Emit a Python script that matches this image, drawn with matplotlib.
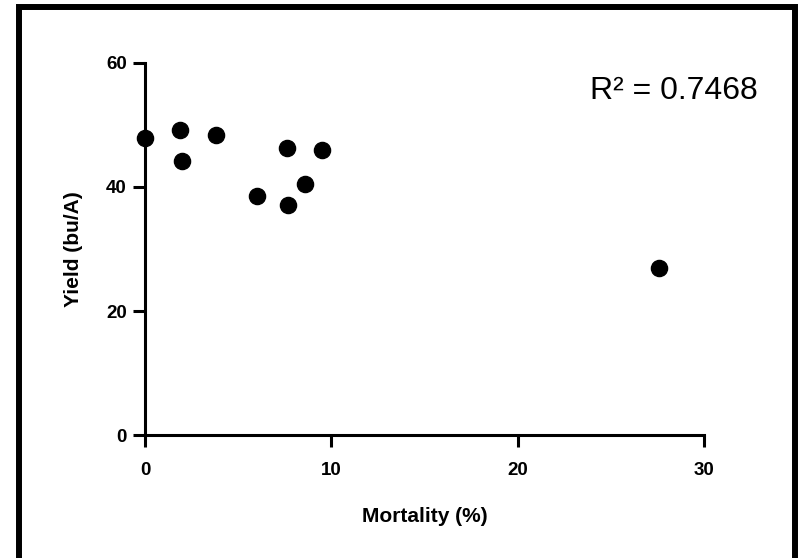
import matplotlib
matplotlib.use("Agg")
import matplotlib.pyplot as plt
import matplotlib.patches as mpatches

# values
mortality = [0.0, 1.9, 2.0, 3.8, 6.0, 7.6, 7.7, 8.6, 9.5, 27.6]
yield_bu = [47.9, 49.2, 44.1, 48.3, 38.6, 46.3, 37.1, 40.5, 45.9, 27.0]
x_ticks = [0, 10, 20, 30]
y_ticks = [0, 20, 40, 60]
r2_label = "R² = 0.7468"

plt.rcParams["font.family"] = ["Liberation Sans", "DejaVu Sans"]

fig = plt.figure(figsize=(7.98, 5.58), dpi=100)
ax = fig.add_axes([0.1817, 0.2199, 0.7005, 0.6677])

ax.scatter(mortality, yield_bu, s=135, color="black", zorder=5, clip_on=False)

ax.set_xlim(0, 30)
ax.set_ylim(0, 60)
ax.set_xticks(x_ticks)
ax.set_yticks(y_ticks)

for side in ["top", "right"]:
    ax.spines[side].set_visible(False)
for side in ["left", "bottom"]:
    ax.spines[side].set_linewidth(2.2)

ax.tick_params(axis="both", direction="out", length=8.5, width=2.2,
               labelsize=13.5)
ax.tick_params(axis="x", pad=11)
ax.tick_params(axis="y", pad=4.5)
for lbl in ax.get_xticklabels() + ax.get_yticklabels():
    lbl.set_fontweight("bold")

ax.set_xlabel("Mortality (%)", fontsize=15, fontweight="bold", labelpad=20)
ax.set_ylabel("Yield (bu/A)", fontsize=15, fontweight="bold", labelpad=17)

ax.text(0.796, 0.902, r2_label, transform=ax.transAxes, fontsize=23,
        ha="left", va="baseline")

# outer frame around the figure
frame = mpatches.Rectangle((0.0238, -0.05), 0.9724, 1.0375,
                           transform=fig.transFigure, fill=False,
                           edgecolor="black", linewidth=4.3, clip_on=False)
fig.patches.append(frame)

fig.savefig("out.png", dpi=100)
